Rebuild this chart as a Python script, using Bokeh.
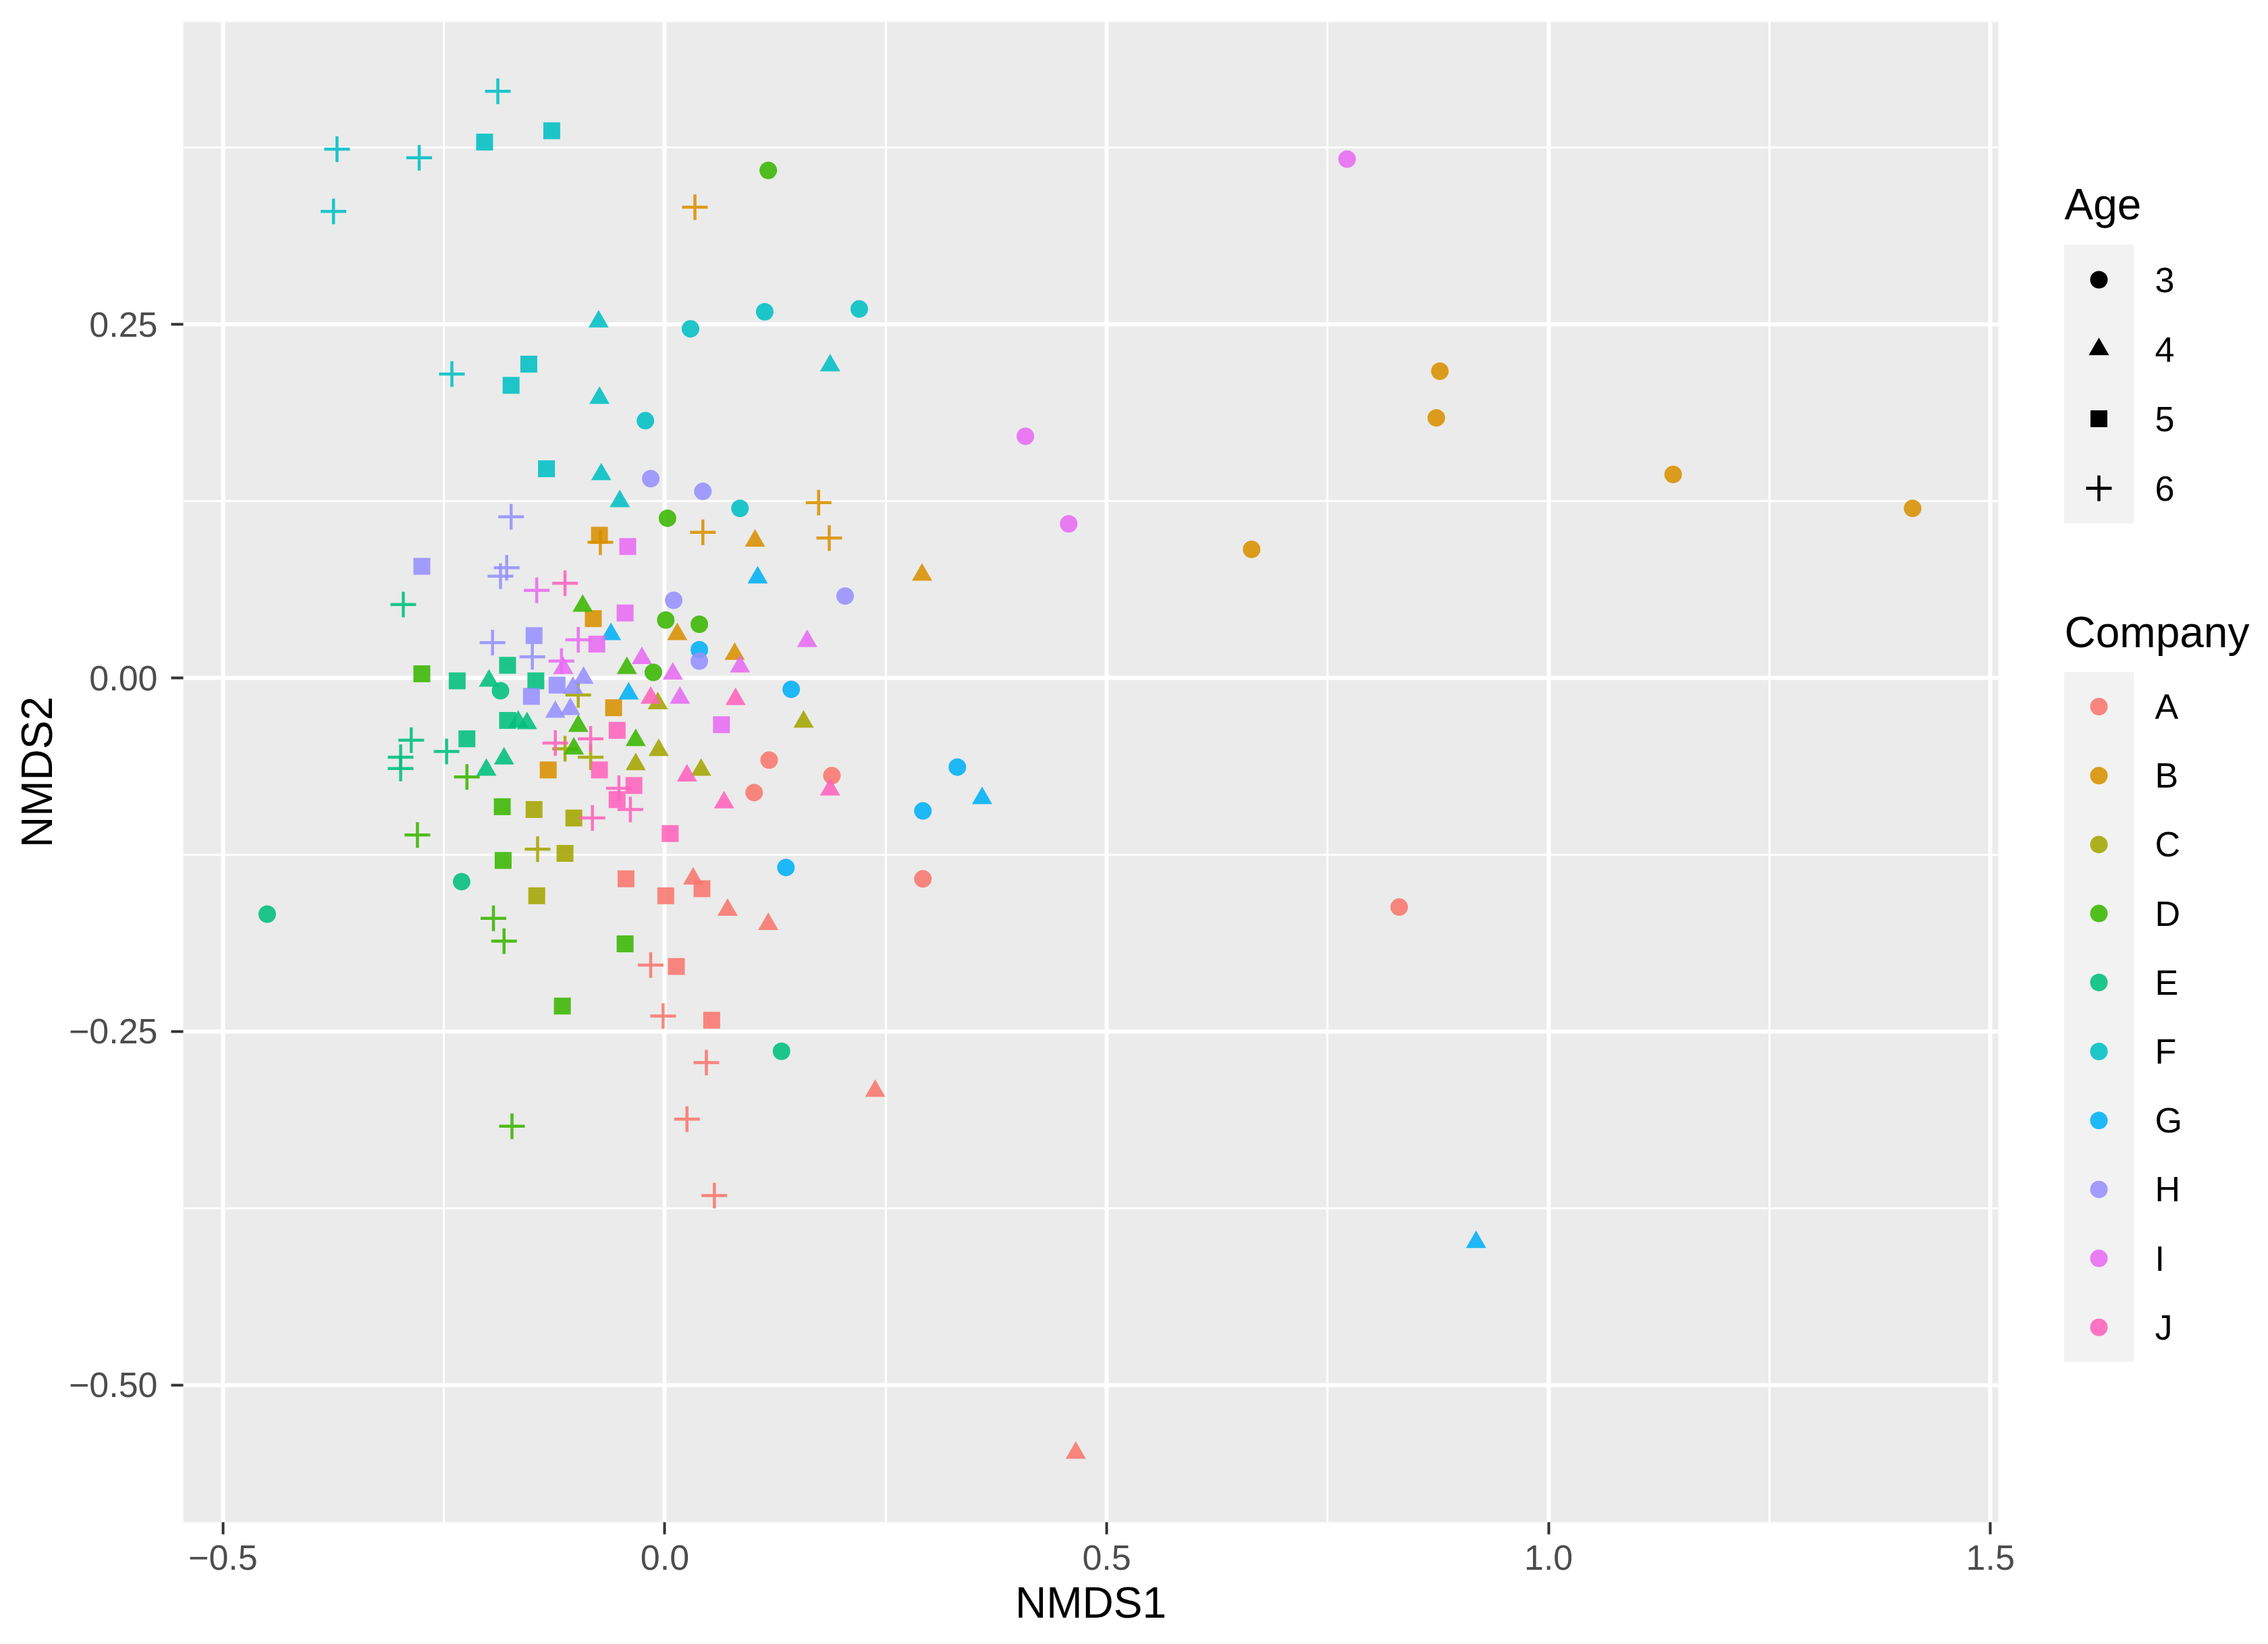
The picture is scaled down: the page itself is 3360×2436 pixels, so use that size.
from bokeh.core.properties import value
from bokeh.embed import file_html
from bokeh.layouts import row
from bokeh.models import CustomJSTickFormatter, FixedTicker, Range1d
from bokeh.plotting import figure
from bokeh.resources import INLINE

companies = ["A", "B", "C", "D", "E", "F", "G", "H", "I", "J"]
company_colors = ["#F8766D", "#D89000", "#A3A500", "#39B600", "#00BF7D",
                  "#00BFC4", "#00B0F6", "#9590FF", "#E76BF3", "#FF62BC"]
age_levels = [3, 4, 5, 6]
age_markers = ["circle", "triangle", "square", "cross"]

x_ticks = [-0.5, 0.0, 0.5, 1.0, 1.5]
y_ticks = [-0.5, -0.25, 0.0, 0.25]

# NMDS scores, one set of lists per company
nmds1_A = [0.118, 0.189, 0.101, 0.292, 0.831, 0.032, 0.071, 0.117, 0.238, 0.465,
           -0.044, 0.042, 0.001, 0.013, 0.053, -0.016, -0.002, 0.047, 0.025, 0.056]
nmds2_A = [-0.058, -0.069, -0.081, -0.142, -0.162, -0.142, -0.164, -0.174, -0.292, -0.548,
           -0.142, -0.149, -0.154, -0.204, -0.242, -0.203, -0.239, -0.272, -0.312, -0.366]
age_A = [3, 3, 3, 3, 3, 4, 4, 4, 4, 4, 5, 5, 5, 5, 5, 6, 6, 6, 6, 6]

nmds1_B = [0.877, 0.873, 1.141, 1.412, 0.664, 0.102, 0.291, 0.014, 0.079,
           -0.074, -0.081, -0.058, -0.132, 0.034, 0.043, 0.174, 0.186, -0.073]
nmds2_B = [0.217, 0.184, 0.144, 0.120, 0.091, 0.097, 0.073, 0.031, 0.017,
           0.101, 0.042, -0.021, -0.065, 0.333, 0.103, 0.124, 0.099, 0.096]
age_B = [3, 3, 3, 3, 3, 4, 4, 4, 4, 5, 5, 5, 5, 6, 6, 6, 6, 6]

nmds1_C = [-0.008, 0.157, -0.007, -0.033, 0.041, -0.148, -0.103, -0.113, -0.145,
           -0.098, -0.113, -0.084, -0.144]
nmds2_C = [-0.018, -0.031, -0.051, -0.061, -0.065, -0.093, -0.099, -0.124, -0.154,
           -0.012, -0.050, -0.056, -0.121]
age_C = [4, 4, 4, 4, 4, 5, 5, 5, 5, 6, 6, 6, 6]

nmds1_D = [0.117, 0.003, 0.001, 0.039, -0.013, -0.093, -0.043, -0.098, -0.103, -0.033,
           -0.275, -0.184, -0.183, -0.045, -0.116, -0.224, -0.280, -0.194, -0.182, -0.173]
nmds2_D = [0.359, 0.113, 0.041, 0.038, 0.004, 0.051, 0.007, -0.034, -0.050, -0.044,
           0.003, -0.091, -0.129, -0.188, -0.232, -0.070, -0.111, -0.170, -0.186, -0.317]
age_D = [3, 3, 3, 3, 3, 4, 4, 4, 4, 4, 5, 5, 5, 5, 5, 6, 6, 6, 6, 6]

nmds1_E = [-0.186, -0.230, -0.450, 0.132, -0.199, -0.156, -0.166, -0.182, -0.202,
           -0.178, -0.235, -0.146, -0.178, -0.224, -0.296, -0.287, -0.247, -0.299, -0.299]
nmds2_E = [-0.009, -0.144, -0.167, -0.264, -0.002, -0.032, -0.031, -0.057, -0.065,
           0.009, -0.002, -0.002, -0.030, -0.043, 0.052, -0.044, -0.052, -0.056, -0.064]
age_E = [3, 3, 3, 3, 4, 4, 4, 4, 4, 5, 5, 5, 5, 5, 6, 6, 6, 6, 6]

nmds1_F = [0.029, 0.113, 0.220, -0.022, 0.085, -0.075, 0.187, -0.074, -0.072, -0.051,
           -0.204, -0.128, -0.154, -0.174, -0.134, -0.189, -0.371, -0.278, -0.375, -0.241]
nmds2_F = [0.247, 0.259, 0.261, 0.182, 0.120, 0.252, 0.221, 0.198, 0.144, 0.125,
           0.379, 0.387, 0.222, 0.207, 0.148, 0.415, 0.374, 0.368, 0.330, 0.215]
age_F = [3, 3, 3, 3, 3, 4, 4, 4, 4, 4, 5, 5, 5, 5, 5, 6, 6, 6, 6, 6]

nmds1_G = [0.039, 0.143, 0.331, 0.292, 0.137, 0.105, -0.061, -0.041, 0.359, 0.918]
nmds2_G = [0.020, -0.008, -0.063, -0.094, -0.134, 0.071, 0.031, -0.011, -0.085, -0.399]
age_G = [3, 3, 3, 3, 3, 4, 4, 4, 4, 4]

nmds1_H = [-0.016, 0.043, 0.204, 0.010, 0.039, -0.092, -0.124, -0.107, -0.104,
           -0.275, -0.148, -0.151, -0.122, -0.174, -0.179, -0.186, -0.195, -0.150]
nmds2_H = [0.141, 0.132, 0.058, 0.055, 0.012, 0.000, -0.024, -0.022, -0.007,
           0.079, 0.030, -0.013, -0.005, 0.114, 0.078, 0.072, 0.025, 0.015]
age_H = [3, 3, 3, 3, 3, 4, 4, 4, 4, 5, 5, 5, 5, 6, 6, 6, 6, 6]

nmds1_I = [0.772, 0.408, 0.457, 0.161, 0.085, 0.009, 0.017, -0.026, -0.115,
           -0.042, -0.045, -0.077, 0.064, -0.145, -0.098, -0.117]
nmds2_I = [0.367, 0.171, 0.109, 0.026, 0.008, 0.003, -0.014, 0.014, 0.007,
           0.093, 0.046, 0.024, -0.033, 0.062, 0.027, 0.012]
age_I = [3, 3, 3, 4, 4, 4, 4, 4, 4, 5, 5, 5, 5, 6, 6, 6]

nmds1_J = [-0.016, 0.080, 0.025, 0.067, 0.187, -0.054, -0.074, -0.035, -0.054, 0.006,
           -0.113, -0.124, -0.084, -0.052, -0.039, -0.082]
nmds2_J = [-0.014, -0.015, -0.069, -0.088, -0.079, -0.037, -0.065, -0.076, -0.086, -0.110,
           0.067, -0.046, -0.043, -0.078, -0.093, -0.099]
age_J = [4, 4, 4, 4, 4, 5, 5, 5, 5, 5, 6, 6, 6, 6, 6, 6]

nmds1 = [nmds1_A, nmds1_B, nmds1_C, nmds1_D, nmds1_E, nmds1_F, nmds1_G, nmds1_H, nmds1_I, nmds1_J]
nmds2 = [nmds2_A, nmds2_B, nmds2_C, nmds2_D, nmds2_E, nmds2_F, nmds2_G, nmds2_H, nmds2_I, nmds2_J]
ages = [age_A, age_B, age_C, age_D, age_E, age_F, age_G, age_H, age_I, age_J]

FONT = value("Liberation Sans")
marker_size = {"circle": 26, "triangle": 30, "square": 25, "cross": 38}
ALPHA = 0.88

H = 2432          # canvas height
TOP, BOTTOM = 32, 177
MAIN_W, LEG_W = 3000, 344

p = figure(width=MAIN_W, height=H,
           x_range=Range1d(-0.545, 1.509), y_range=Range1d(-0.597, 0.464),
           output_backend="svg", toolbar_location=None,
           min_border_left=271, min_border_right=40,
           min_border_top=TOP, min_border_bottom=BOTTOM,
           background_fill_color="#EBEBEB", border_fill_color="white",
           outline_line_color=None)

p.xaxis.ticker = FixedTicker(ticks=x_ticks, minor_ticks=[-0.25, 0.25, 0.75, 1.25])
p.yaxis.ticker = FixedTicker(ticks=y_ticks, minor_ticks=[-0.375, -0.125, 0.125, 0.375])
p.xgrid.ticker = p.xaxis.ticker
p.ygrid.ticker = p.yaxis.ticker
p.xaxis.formatter = CustomJSTickFormatter(code="""
    const s = Math.abs(tick).toFixed(1);
    return tick < -1e-9 ? "\u2212" + s : s;
""")
p.yaxis.formatter = CustomJSTickFormatter(code="""
    const s = Math.abs(tick).toFixed(2);
    return tick < -1e-9 ? "\u2212" + s : s;
""")

for g in (p.xgrid, p.ygrid):
    g.grid_line_color = "white"
    g.grid_line_width = 6
    g.minor_grid_line_color = "white"
    g.minor_grid_line_width = 3

for ax in (p.xaxis, p.yaxis):
    ax.axis_line_color = None
    ax.major_tick_out = 18
    ax.major_tick_in = 0
    ax.major_tick_line_width = 4
    ax.major_tick_line_color = "#333333"
    ax.minor_tick_line_color = None
    ax.major_label_text_font = "Liberation Sans"
    ax.major_label_text_font_size = "52px"
    ax.major_label_text_color = "#4D4D4D"
    ax.axis_label_text_font = "Liberation Sans"
    ax.axis_label_text_font_size = "64px"
    ax.axis_label_text_font_style = "normal"
    ax.axis_label_text_color = "black"

p.xaxis.axis_label = "NMDS1"
p.yaxis.axis_label = "NMDS2"
p.xaxis.major_label_standoff = 16
p.xaxis.axis_label_standoff = 10
p.yaxis.major_label_standoff = 20
p.yaxis.axis_label_standoff = 8

for color, xs, ys, ag in zip(company_colors, nmds1, nmds2, ages):
    for level, marker in zip(age_levels, age_markers):
        sx = [x for x, a in zip(xs, ag) if a == level]
        sy = [y for y, a in zip(ys, ag) if a == level]
        if not sx:
            continue
        if marker == "cross":
            p.scatter(sx, sy, marker=marker, size=marker_size[marker],
                      line_color=color, line_width=4.5, line_alpha=ALPHA)
        else:
            p.scatter(sx, sy, marker=marker, size=marker_size[marker],
                      fill_color=color, fill_alpha=ALPHA, line_color=None)

# legend panel, hand drawn; its ranges are page pixels (y pointing down)
leg = figure(width=LEG_W, height=H,
             x_range=Range1d(MAIN_W, MAIN_W + LEG_W), y_range=Range1d(H - BOTTOM, TOP),
             output_backend="svg", toolbar_location=None,
             x_axis_type=None, y_axis_type=None,
             min_border_left=0, min_border_right=0,
             min_border_top=TOP, min_border_bottom=BOTTOM,
             outline_line_color=None, background_fill_color="white")
leg.grid.visible = False

key_x, key_w, label_x, title_x = 3109, 103, 3192, 3058
age_rows = [414 + 103 * i for i in range(len(age_levels))]
comp_rows = [1046.5 + 102.2 * i for i in range(len(companies))]

leg.text([title_x], [302], text=["Age"], text_font=FONT, text_font_size="64px",
         text_baseline="alphabetic", text_align="left", text_color="black")
leg.quad(left=key_x - key_w / 2, right=key_x + key_w / 2,
         top=age_rows[0] - 52, bottom=age_rows[-1] + 52, fill_color="#F2F2F2", line_color=None)
for yy, marker in zip(age_rows, age_markers):
    if marker == "cross":
        leg.scatter([key_x], [yy], marker=marker, size=marker_size[marker],
                    line_color="black", line_width=4.5)
    else:
        leg.scatter([key_x], [yy], marker=marker, size=marker_size[marker],
                    fill_color="black", line_color=None)
leg.text([label_x] * len(age_rows), age_rows, text=[str(a) for a in age_levels],
         text_font=FONT, text_font_size="52px", text_baseline="middle",
         text_align="left", text_color="black")

leg.text([title_x], [936], text=["Company"], text_font=FONT, text_font_size="64px",
         text_baseline="alphabetic", text_align="left", text_color="black")
leg.quad(left=key_x - key_w / 2, right=key_x + key_w / 2,
         top=comp_rows[0] - 51, bottom=comp_rows[-1] + 51, fill_color="#F2F2F2", line_color=None)
leg.scatter([key_x] * len(comp_rows), comp_rows, marker="circle", size=marker_size["circle"],
            fill_color=company_colors, fill_alpha=ALPHA, line_color=None)
leg.text([label_x] * len(comp_rows), comp_rows, text=companies,
         text_font=FONT, text_font_size="52px", text_baseline="middle",
         text_align="left", text_color="black")

layout = row(p, leg)
open("out.html", "w").write(file_html(layout, INLINE))
